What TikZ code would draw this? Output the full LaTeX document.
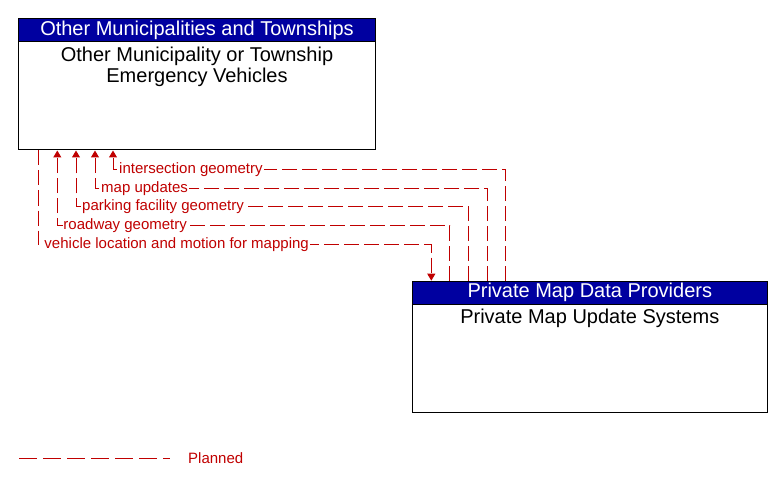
\documentclass[tikz,border=0pt]{standalone}
\usepackage{fontspec}
\setmainfont{Liberation Sans}
\usetikzlibrary{arrows.meta}
\definecolor{hdrblue}{RGB}{0,0,160}
\definecolor{flowred}{RGB}{192,0,0}
\tikzset{
  sysbox/.style={draw=black, line width=1bp, fill=white, inner sep=0pt},
  hdr/.style={draw=black, line width=1bp, fill=hdrblue, text=white, inner sep=0pt,
    font=\fontsize{20bp}{22bp}\selectfont},
  bodytxt/.style={align=center, inner sep=0pt, text=black,
    font=\fontsize{20bp}{21.5bp}\selectfont},
  flow/.style={draw=flowred, line width=1bp, dash pattern=on 15bp off 5bp},
  tip/.style={-{Triangle[width=8bp,length=7bp]}},
  lbl/.style={fill=white, text=flowred, inner sep=1bp, anchor=west,
    font=\fontsize{15bp}{17bp}\selectfont},
}
\begin{document}
\begin{tikzpicture}[x=1bp, y=-1bp]
\useasboundingbox (0,0) rectangle (783,487);

% top system
\node[sysbox, minimum width=356bp, minimum height=131bp] (A) at (197,84.5) {};
\node[hdr, minimum width=356bp, minimum height=23bp, anchor=north] (Ah) at (A.north) {Other Municipalities and Townships};
\node[bodytxt, anchor=north] (At) at ([yshift=-4bp]Ah.south) {Other Municipality or Township\\Emergency Vehicles};

% bottom system
\node[sysbox, minimum width=355bp, minimum height=131bp] (B) at (589.8,346.7) {};
\node[hdr, minimum width=355bp, minimum height=23bp, anchor=north] (Bh) at (B.north) {Private Map Data Providers};
\node[bodytxt, anchor=north] (Bt) at ([yshift=-4bp]Bh.south) {Private Map Update Systems};

% connectors
\draw[flow, tip] (505.3,0 |- B.north) -- (505.3,169.3) -| (113,0 |- A.south);
\node[lbl] (l1) at (118,169.3) {intersection geometry};

\draw[flow, tip] (487.3,0 |- B.north) -- (487.3,188.7) -| (95,0 |- A.south);
\node[lbl] (l2) at (100,188.7) {map updates};

\draw[flow, tip] (468.7,0 |- B.north) -- (468.7,206.3) -| (76,0 |- A.south);
\node[lbl] (l3) at (81,206.3) {parking facility geometry};

\draw[flow, tip] (449.7,0 |- B.north) -- (449.7,225.7) -| (57.3,0 |- A.south);
\node[lbl] (l4) at (62.3,225.7) {roadway geometry};

\draw[flow, tip] (38.3,0 |- A.south) -- (38.3,244.7) -| (431.3,0 |- B.north);
\node[lbl] (l5) at (43.3,244.7) {vehicle location and motion for mapping};

% legend
\coordinate (lg1) at (19,458.5);
\coordinate (lg2) at (170,458.5);
\draw[draw=flowred, line width=1bp, dash pattern=on 18bp off 6bp] (lg1) -- (lg2);
\node[text=flowred, anchor=west, inner sep=0pt, font=\fontsize{15bp}{17bp}\selectfont] (lgt) at (188,458.5) {Planned};
\end{tikzpicture}
\end{document}
